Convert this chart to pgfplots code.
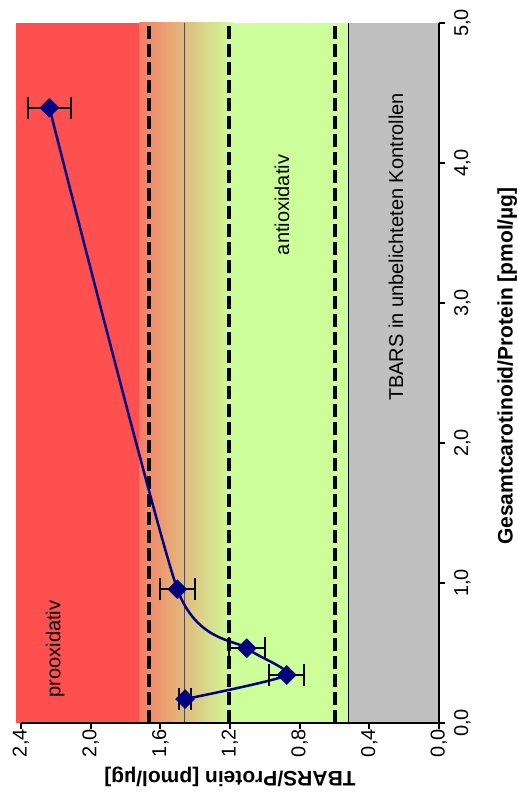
\documentclass[border=0pt]{standalone}
\usepackage{fontspec}
\setmainfont{Liberation Sans}
\usepackage{pgfplots}
\pgfplotsset{compat=1.18}
\definecolor{cred}{RGB}{255,80,80}
\definecolor{cgrad}{RGB}{245,125,100}
\definecolor{cgreen}{RGB}{204,255,153}
\definecolor{cgray}{RGB}{192,192,192}
\definecolor{cnavy}{RGB}{0,0,128}
\pgfplotstableread{
t c e
1.458 0.171 0.034
0.874 0.343 0.100
1.104 0.534 0.103
1.502 0.955 0.100
2.237 4.395 0.122
}\datatab
\begin{document}
\begin{tikzpicture}
\useasboundingbox (-21pt,-77pt) rectangle (497pt,723pt);
\begin{axis}[
  at={(0pt,0pt)}, anchor=south west,
  scale only axis, width=418pt, height=700pt,
  xmin=0, xmax=2.4, ymin=0, ymax=5,
  x dir=reverse,
  clip=false,
  axis on top,
  axis x line*=bottom, axis y line*=right,
  axis line style={line width=2pt, black},
  every tick/.style={black, line width=2pt},
  major tick length=6pt,
  tick align=outside,
  xtick={0,0.4,0.8,1.2,1.6,2.0,2.4},
  ytick={0,1,2,3,4,5},
  yticklabel shift=9pt,
  /pgf/number format/assume math mode=true,
  /pgf/number format/.cd, fixed, fixed zerofill, precision=1, use comma, /pgfplots/.cd,
  xticklabel style={rotate=90, anchor=east, inner sep=0pt, font=\fontsize{20}{24}\selectfont},
  yticklabel style={rotate=90, anchor=north, inner sep=0pt, font=\fontsize{20}{24}\selectfont},
  every axis x label/.style={at={(axis description cs:0.5,-0.077)}, anchor=center, rotate=180, font=\fontsize{21}{25}\selectfont\bfseries},
  every axis y label/.style={at={(axis description cs:1.163,0.51)}, anchor=center, rotate=90, font=\fontsize{21}{25}\selectfont\bfseries},
  xlabel={TBARS/Protein [pmol/µg]},
  ylabel={Gesamtcarotinoid/Protein [pmol/µg]},
]
\addplot[draw=none, fill=cred] coordinates {(2.43,0) (1.72,0) (1.72,5) (2.43,5)} -- cycle;
\addplot[draw=none, left color=cgrad, right color=cgreen] coordinates {(1.72,0) (1.18,0) (1.18,5) (1.72,5)} -- cycle;
\addplot[draw=none, fill=cgreen] coordinates {(1.18,0) (0.517,0) (0.517,5) (1.18,5)} -- cycle;
\addplot[draw=none, fill=cgray] coordinates {(0.517,0) (0,0) (0,5) (0.517,5)} -- cycle;
\addplot[black!70, line width=1pt] coordinates {(1.464,0) (1.464,5)};
\addplot[black, line width=1pt] coordinates {(0.517,0) (0.517,5)};
\addplot[black, line width=3.5pt, dash pattern=on 13pt off 5pt] coordinates {(1.665,0) (1.665,5)};
\addplot[black, line width=3.5pt, dash pattern=on 13pt off 5pt] coordinates {(1.205,0) (1.205,5)};
\addplot[black, line width=3.5pt, dash pattern=on 13pt off 5pt] coordinates {(0.597,0) (0.597,5)};
\node[rotate=90, font=\fontsize{20}{24}\selectfont] at (axis cs:2.204,0.529) {prooxidativ};
\node[rotate=90, font=\fontsize{20}{24}\selectfont] at (axis cs:0.901,3.70) {antioxidativ};
\node[rotate=90, font=\fontsize{20}{24}\selectfont] at (axis cs:0.247,3.40) {TBARS in unbelichteten Kontrollen};
\addplot[cnavy, line width=2.5pt, smooth, tension=0.35, mark=square*, mark size=6.7pt,
  mark options={rotate=45, fill=cnavy, draw=cnavy, solid, line width=0.5pt},
  error bars/.cd, x dir=both, x explicit,
  error bar style={black, line width=2pt, solid},
  error mark options={black, line width=2pt, mark size=11pt, rotate=90}]
  table[x=t, y=c, x error=e] {\datatab};
\end{axis}
\end{tikzpicture}
\end{document}
